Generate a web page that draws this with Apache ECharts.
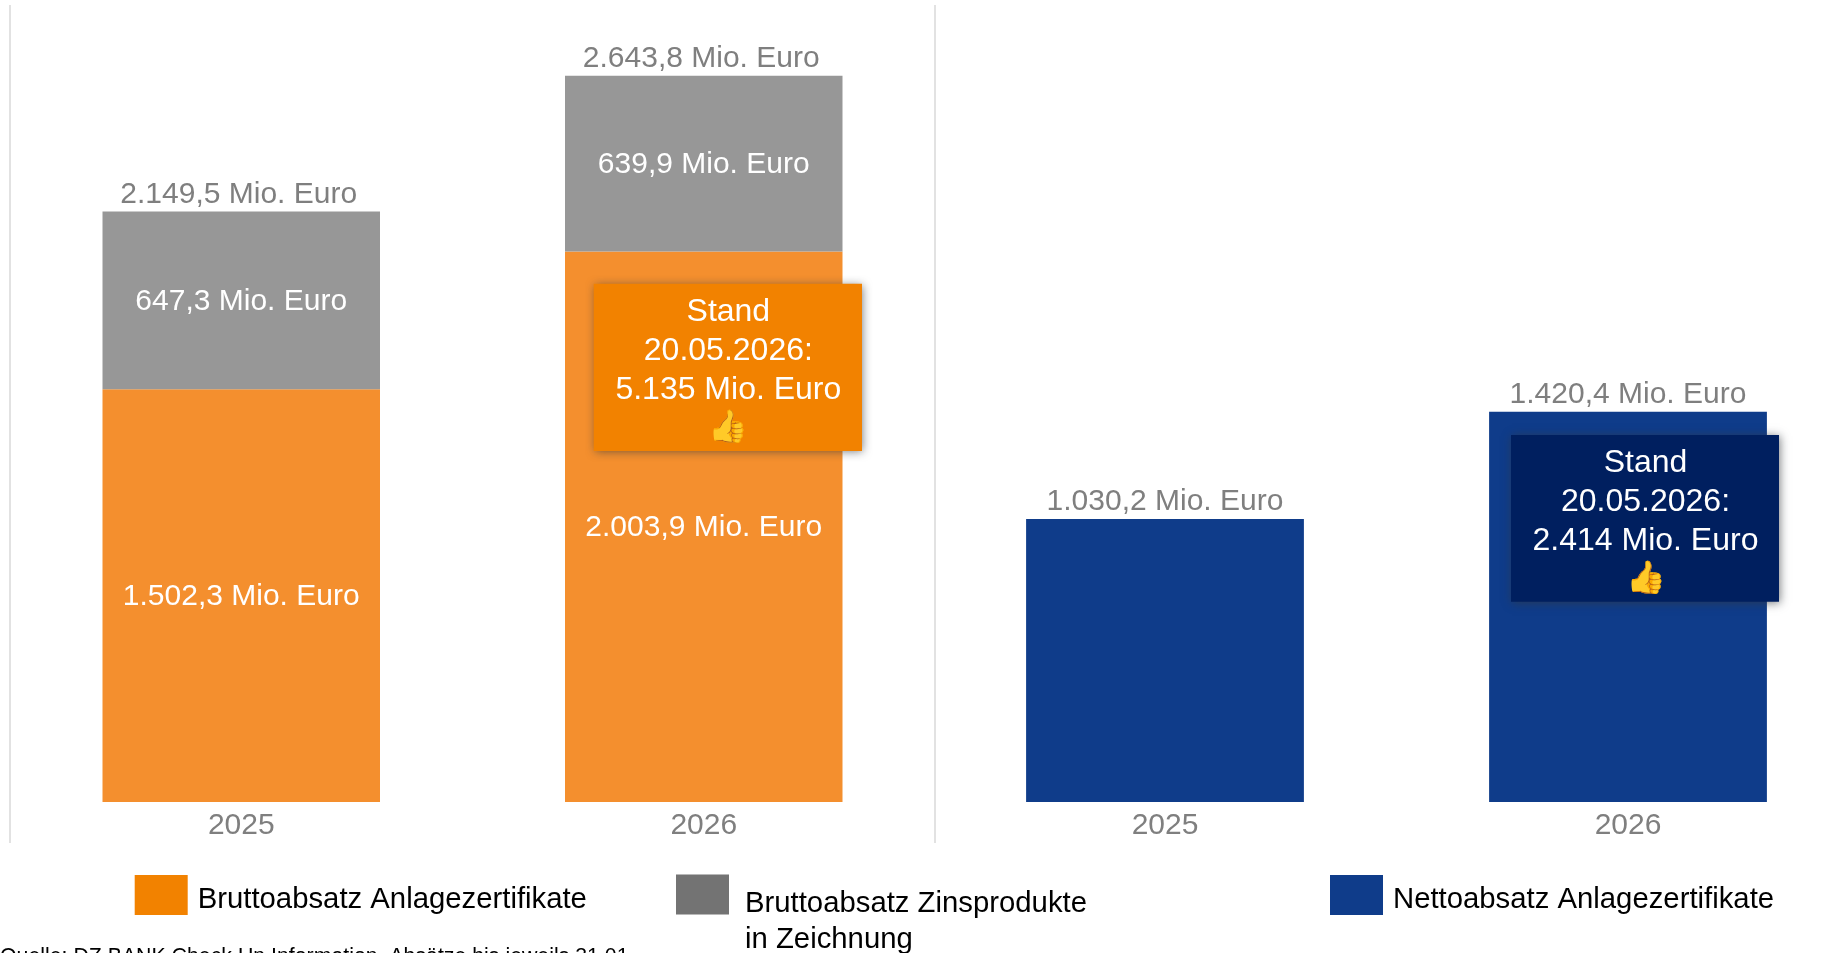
<!DOCTYPE html>
<html><head><meta charset="utf-8">
<style>html,body{margin:0;padding:0;background:#fff}#c{width:1836px;height:953px}</style>
<script src="https://cdn.jsdelivr.net/npm/echarts@6/dist/echarts.min.js"></script>
</head><body><div id="c"></div>
<script>
const years = ['2025', '2026'];
const bruttoAnlage = [1502.3, 2003.9];
const bruttoZins = [647.3, 639.9];
const bruttoTotal = [2149.5, 2643.8];
const nettoAnlage = [1030.2, 1420.4];
const nameAnlage = 'Bruttoabsatz Anlagezertifikate';
const nameZinsLines = ['Bruttoabsatz Zinsprodukte', 'in Zeichnung'];
const nameZins = nameZinsLines.join(' ');
const nameNetto = 'Nettoabsatz Anlagezertifikate';
const calloutBrutto = 'Stand\n20.05.2026:\n5.135 Mio. Euro\n👍';
const calloutNetto = 'Stand\n20.05.2026:\n2.414 Mio. Euro\n👍';
const sourceText = 'Quelle: DZ BANK Check Up Information, Absätze bis jeweils 31.01.';

const FONT = '"Liberation Sans", Arial, sans-serif';
const fmt = v => v.toLocaleString('de-DE', {minimumFractionDigits: 1, maximumFractionDigits: 1}) + ' Mio. Euro';
const inner = {show: true, position: 'inside', offset: [0, 1], color: '#fff', fontFamily: FONT, fontSize: 30,
  formatter: p => fmt(p.value)};
const total = {show: true, position: 'top', distance: 2, color: '#7f7f7f', fontFamily: FONT, fontSize: 30,
  formatter: p => fmt(p.value)};
const xAxisBase = {type: 'category', data: years, axisLine: {show: false}, axisTick: {show: false},
  axisLabel: {color: '#7f7f7f', fontFamily: FONT, fontSize: 30, margin: 9}};
const yAxisBase = {type: 'value', min: 0, max: 2900, show: false, splitLine: {show: false}};
const richLegend = (pad, left) => ({
  color: '#000', fontFamily: FONT, fontSize: 29.3,
  rich: {
    b: {lineHeight: pad, fontSize: 10},
    t: {lineHeight: 36, fontSize: 29.3, fontFamily: FONT, color: '#000', padding: [0, 0, 0, left]}
  }
});
const legendBase = {selectedMode: false, itemWidth: 53, itemHeight: 40, itemGap: 0, padding: 0, icon: 'rect'};

function callout(x, y, w, h, fill, text) {
  return {type: 'group', children: [
    {type: 'rect', z: 100, shape: {x, y, width: w, height: h},
     style: {fill, shadowBlur: 9, shadowColor: 'rgba(50,55,60,0.65)', shadowOffsetX: 1, shadowOffsetY: 1}},
    {type: 'text', z: 101, x: x + w / 2 + 0.5, y: y + h / 2 + 3,
     style: {text, fill: '#fff', font: '32px ' + FONT, lineHeight: 38.7, align: 'center', verticalAlign: 'middle'}}
  ]};
}
function rule(x) {
  return {type: 'line', z: 1, shape: {x1: x, y1: 5, x2: x, y2: 843}, style: {stroke: '#d9d9d9', lineWidth: 1.5}};
}

const chart = echarts.init(document.getElementById('c'), null, {renderer: 'canvas'});
chart.setOption({
  animation: false,
  backgroundColor: '#fff',
  grid: [
    {left: 10, width: 925, top: 5.4, height: 796.6, outerBoundsMode: 'none'},
    {left: 933.5, width: 926, top: 5.4, height: 796.6, outerBoundsMode: 'none'}
  ],
  xAxis: [Object.assign({gridIndex: 0}, xAxisBase), Object.assign({gridIndex: 1}, xAxisBase)],
  yAxis: [Object.assign({gridIndex: 0}, yAxisBase), Object.assign({gridIndex: 1}, yAxisBase)],
  legend: [
    Object.assign({left: 134.7, top: 872, textStyle: richLegend(9, 5),
     formatter: n => '{b| }\n{t|' + n + '}',
     data: [{name: nameAnlage, itemStyle: {color: '#f28200'}}]}, legendBase),
    Object.assign({left: 676, top: 853.5, textStyle: richLegend(54, 11),
     formatter: () => '{b| }\n{t|' + nameZinsLines[0] + '}\n{t|' + nameZinsLines[1] + '}',
     data: [{name: nameZins, itemStyle: {color: '#737373'}}]}, legendBase),
    Object.assign({left: 1330, top: 872, textStyle: richLegend(9, 5),
     formatter: n => '{b| }\n{t|' + n + '}',
     data: [{name: nameNetto, itemStyle: {color: '#0f3c8a'}}]}, legendBase)
  ],
  series: [
    {name: nameAnlage, type: 'bar', stack: 'a', barWidth: '60%', xAxisIndex: 0, yAxisIndex: 0,
     data: bruttoAnlage, itemStyle: {color: '#f48f2e'}, label: inner},
    {name: nameZins, type: 'bar', stack: 'a', barWidth: '60%', xAxisIndex: 0, yAxisIndex: 0,
     data: bruttoZins, itemStyle: {color: '#979797'}, label: inner},
    {name: 'Summe', type: 'scatter', xAxisIndex: 0, yAxisIndex: 0, symbolSize: 0, silent: true,
     data: bruttoTotal, itemStyle: {opacity: 1}, label: Object.assign({offset: [-2.5, 0]}, total)},
    {name: nameNetto, type: 'bar', barWidth: '60%', xAxisIndex: 1, yAxisIndex: 1,
     data: nettoAnlage, itemStyle: {color: '#0f3c8a'}, label: total}
  ],
  graphic: [
    rule(10), rule(935),
    callout(593.7, 283.7, 268.3, 167.3, '#f28200', calloutBrutto),
    callout(1511, 435, 268, 166.7, '#001f5f', calloutNetto),
    {type: 'text', x: 0, y: 946.5, z: 100,
     style: {text: sourceText, fill: '#000', font: '21.3px ' + FONT}}
  ]
});
</script></body></html>
